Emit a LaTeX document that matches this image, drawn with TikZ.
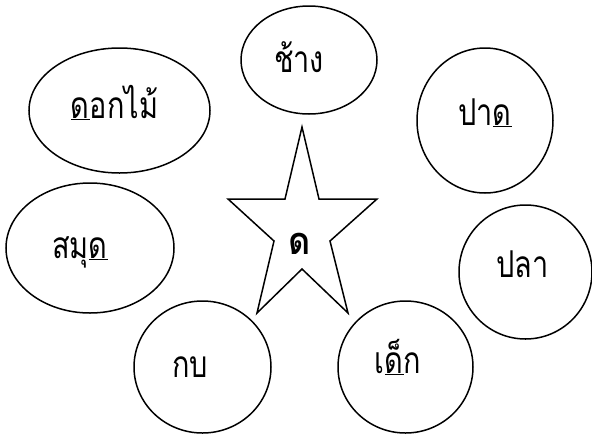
\documentclass[tikz,border=0pt]{standalone}
\usepackage{fontspec}
\newfontfamily\thaifont[Script=Thai,FakeStretch=0.78]{Loma}
\newfontfamily\thaibig[Script=Thai,FakeStretch=0.9]{Loma}
\usetikzlibrary{shapes.geometric}
\tikzset{
  bubble/.style={draw,ellipse,line width=1.5pt,inner sep=0pt},
  word/.style={font=\thaifont\fontsize{37}{42}\selectfont,anchor=base,inner sep=0pt},
}
\begin{document}
\begin{tikzpicture}[x=1pt,y=-1pt]
  \useasboundingbox (0,0) rectangle (592,437);
  % bubbles round the star
  \node[bubble,minimum width=181,minimum height=125] (dokmai) at (119.5,110.5) {};
  \node[bubble,minimum width=136,minimum height=108] (chang) at (309,60) {};
  \node[bubble,minimum width=136,minimum height=145] (pat) at (485,120.5) {};
  \node[bubble,minimum width=133,minimum height=134] (pla) at (525.5,272) {};
  \node[bubble,minimum width=168,minimum height=130] (samut) at (90,248) {};
  \node[bubble,minimum width=137,minimum height=132] (kob) at (202.5,367) {};
  \node[bubble,minimum width=135,minimum height=132] (dek) at (405.5,367) {};
  % words
  \node[word] (dokmaiw) at (114.5,118) {\underline{ด}อกไม้};
  \node[word] (changw) at (299,72) {ช้าง};
  \node[word] (patw) at (485,125) {ปา\underline{ด}};
  \node[word] (plaw) at (522.5,277) {ปลา};
  \node[word] (samutw) at (80,258) {สมุ\underline{ด}};
  \node[word] (kobw) at (190,377) {กบ};
  \node[word] (dekw) at (398,373) {เ\underline{ด็}ก};
  % the star
  \draw[line width=1.5pt] (302,127) -- (319,199) -- (377,199) -- (330,241)
    -- (348,313) -- (302,269) -- (257,313) -- (274,241) -- (228,199)
    -- (285,199) -- cycle;
  \node[word,font=\thaibig\bfseries\fontsize{38}{44}\selectfont] (letter) at (300,254) {ด};
\end{tikzpicture}
\end{document}
